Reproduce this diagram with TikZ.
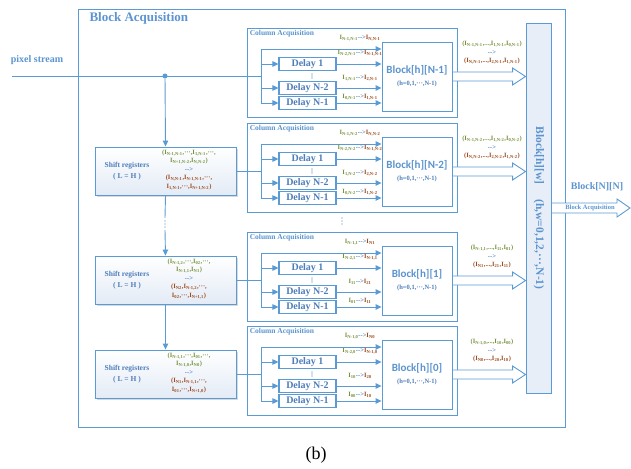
\documentclass[tikz,border=0pt]{standalone}
\usepackage{fontspec}
\setmainfont{Liberation Serif}
\newfontfamily\blkfont{Carlito}
\usetikzlibrary{arrows.meta,calc,shadows}

\definecolor{bluel}{HTML}{5B9BD5}
\definecolor{bluet}{HTML}{5B94D0}
\definecolor{delayc}{HTML}{4D7DBA}
\definecolor{igreen}{HTML}{76923C}
\definecolor{ibrown}{HTML}{9E4B1E}
\definecolor{srfill}{HTML}{E3EBF6}
\definecolor{bigfill}{HTML}{E8EEF7}

\newcommand{\ix}[1]{I\textsubscript{#1}}
\newcommand{\ipair}[2]{{\color{igreen}#1}{\color{delayc}-{}->}{\color{ibrown}#2}}
% three vertical dots round a named point: name, spacing
\newcommand{\threedots}[2]{%
  \fill[delayc] (#1) ++(0,-#2) circle (0.7) ++(0,#2) circle (0.7) ++(0,#2) circle (0.7);}
% hollow block arrow: from, to, shaft half width, head half width
\newcommand{\fatarrow}[4]{%
  \draw[fat] ($(#1)+(0,#3)$) -- ($(#2)+(-13,#3)$) -- ($(#2)+(-13,#4)$) -- (#2)
    -- ($(#2)+(-13,-#4)$) -- ($(#2)+(-13,-#3)$) -- ($(#1)+(0,-#3)$) -- cycle;}
% one column acquisition unit: name, top, block text, 4 delay labels, 2 output labels
\newcommand{\colunit}[9]{%
  \node[cabox] (#1ca) at (352,#2+44.5) {};
  \node[catitle] (#1cat) at ([xshift=3pt,yshift=-3pt]#1ca.north west) {Column Acquisition};
  \node[blkbox] (#1blk) at (417,#2+48.5) {{\blkfont\fontsize{11}{13}\selectfont #3}\\
    {\color{delayc}\fontsize{6.5}{8}\selectfont (h=0,1,···,N-1)}};
  \node[delaybox] (#1da) at (307.5,#2+36) {Delay 1};
  \node[delaybox] (#1db) at (307.5,#2+60) {Delay N-2};
  \node[delaybox] (#1dc) at (307.5,#2+75) {Delay N-1};
  \coordinate (#1vd) at (312,#2+48);
  \threedots{#1vd}{2}
  \coordinate (#1j) at (261,#2+48);
  \coordinate (#1top) at (261,#2+21);
  \draw[wire] (#1top) -- (#1j |- #1dc);
  \draw[arr] (#1top) -- (#1top -| #1blk.west);
  \draw[arr] (#1j |- #1da) -- (#1da.west);
  \draw[arr] (#1j |- #1db) -- (#1db.west);
  \draw[arr] (#1j |- #1dc) -- (#1dc.west);
  \draw[arr] (#1da.east) -- (#1da -| #1blk.west);
  \draw[arr] (#1db.east) -- (#1db -| #1blk.west);
  \draw[arr] (#1dc.east) -- (#1dc -| #1blk.west);
  \node[lbl] (#1la) at (360,#2+10) {#4};
  \node[lbl] (#1lb) at (360,#2+25) {#5};
  \node[lbl] (#1lc) at (360,#2+50) {#6};
  \node[lbl] (#1ld) at (360,#2+69) {#7};
  \coordinate (#1tip) at (#1blk.east -| big.west);
  \fatarrow{#1blk.east}{#1tip}{4.5}{8.5}
  \node[lbl] (#1oa) at (492,#2+16) {\color{igreen}#8};
  \node[lbl] (#1ob) at (492,#2+25) {\color{delayc}-{}->};
  \node[lbl] (#1oc) at (492,#2+33) {\color{ibrown}#9};
}

\begin{document}
\begin{tikzpicture}[x=1pt, y=-1pt,
    wire/.style={draw=bluel, line width=0.9pt},
    arr/.style={wire, -{Triangle[length=6pt,width=5.5pt]}},
    fat/.style={draw=bluel, line width=0.9pt, fill=white},
    outerbox/.style={draw=bluel, line width=0.9pt, minimum width=487pt, minimum height=418pt, inner sep=0},
    cabox/.style={draw=bluel, line width=0.9pt, fill=white, minimum width=210pt, minimum height=89pt, inner sep=0},
    catitle/.style={anchor=north west, inner sep=0, text=bluet, font=\bfseries\fontsize{7.5}{8}\selectfont},
    blkbox/.style={draw=bluel, line width=0.9pt, fill=white, minimum width=70pt, minimum height=69pt, inner sep=0, align=center, text=bluet, font=\bfseries},
    delaybox/.style={draw=bluel, line width=1.1pt, fill=white, minimum width=57pt, minimum height=13pt, inner sep=0, text=delayc, font=\bfseries\fontsize{10}{11}\selectfont},
    srbox/.style={draw=bluel, line width=0.9pt, top color=white, bottom color=srfill, minimum width=141pt, minimum height=48pt, inner sep=0,
      drop shadow={opacity=0.3, shadow xshift=1.5pt, shadow yshift=-1.5pt}},
    srtext/.style={align=center, text=delayc, font=\bfseries\fontsize{7.5}{11}\selectfont},
    srform/.style={align=center, inner sep=0, font=\bfseries\fontsize{6.5}{8.5}\selectfont},
    lbl/.style={inner sep=0, font=\bfseries\fontsize{6.5}{7.5}\selectfont},
    gap/.style={inner sep=0, minimum width=4pt, minimum height=12pt},
    bigtitle/.style={text=bluet, font=\bfseries\fontsize{13}{15}\selectfont}]
  \useasboundingbox (0,0) rectangle (631,468);

  % outer frame
  \node[outerbox] (ba) at (321.5,218) {};
  \node[bigtitle, anchor=west] (bat) at (86,18) {Block Acquisition};

  % collecting block
  \node[draw=bluel, line width=0.9pt, fill=bigfill, minimum width=25pt, minimum height=370pt, inner sep=0] (big) at (538.5,208) {};
  \node[rotate=-90, text=bluet, font=\bfseries\fontsize{11.5}{13}\selectfont] (bigt) at (539,208) {Block[h][w]\hspace{1.3em}(h,w=0,1,2,···,N-1)};

  % column acquisition units
  \colunit{c1}{28}{Block[h][N-1]}
    {\ipair{\ix{N-1,N-1}}{\ix{N,N-1}}}
    {\ipair{\ix{N-2,N-1}}{\ix{N-1,N-1}}}
    {\ipair{\ix{1,N-1}}{\ix{2,N-1}}}
    {\ipair{\ix{0,N-1}}{\ix{1,N-1}}}
    {(\ix{N-1,N-1},...,\ix{1,N-1},\ix{0,N-1})}
    {(\ix{N,N-1},...,\ix{2,N-1},\ix{1,N-1})}
  \colunit{c2}{123}{Block[h][N-2]}
    {\ipair{\ix{N-1,N-2}}{\ix{N,N-2}}}
    {\ipair{\ix{N-2,N-2}}{\ix{N-1,N-2}}}
    {\ipair{\ix{1,N-2}}{\ix{2,N-2}}}
    {\ipair{\ix{0,N-2}}{\ix{1,N-2}}}
    {(\ix{N-1,N-2},...,\ix{1,N-2},\ix{0,N-2})}
    {(\ix{N,N-2},...,\ix{2,N-2},\ix{1,N-2})}
  \colunit{c3}{232}{Block[h][1]}
    {\ipair{\ix{N-1,1}}{\ix{N1}}}
    {\ipair{\ix{N-2,1}}{\ix{N-1,1}}}
    {\ipair{\ix{11}}{\ix{21}}}
    {\ipair{\ix{01}}{\ix{11}}}
    {(\ix{N-1,1},...,\ix{11},\ix{01})}
    {(\ix{N1},...,\ix{21},\ix{11})}
  \colunit{c4}{326}{Block[h][0]}
    {\ipair{\ix{N-1,0}}{\ix{N0}}}
    {\ipair{\ix{N-2,0}}{\ix{N-1,0}}}
    {\ipair{\ix{10}}{\ix{20}}}
    {\ipair{\ix{00}}{\ix{10}}}
    {(\ix{N-1,0},...,\ix{10},\ix{00})}
    {(\ix{N0},...,\ix{20},\ix{10})}
  \coordinate (cvd) at (342,221);
  \threedots{cvd}{3}

  % pixel stream input
  \node[text=bluet, font=\bfseries\fontsize{10}{12}\selectfont] (ps) at (37,60) {pixel stream};
  \coordinate (pin) at (12,76);
  \node[circle, fill=bluel, inner sep=0, minimum size=5pt] (dot) at (165,76) {};
  \draw[wire] (pin) -- (c1j);

  % shift registers
  \node[srbox] (sr1) at (165.5,171) {};
  \node[srbox] (sr2) at (165.5,280) {};
  \node[srbox] (sr3) at (165.5,374) {};
  \node[srtext] (sr1l) at (127,171) {Shift registers\\( L = H )};
  \node[srtext] (sr2l) at (127,280) {Shift registers\\( L = H )};
  \node[srtext] (sr3l) at (127,374) {Shift registers\\( L = H )};
  \node[srform] (sr1r) at (189,170) {\color{igreen}(\ix{N-1,N-1},···,\ix{1,N-1},···,\\\color{igreen}\ix{N+1,N-2},\ix{N,N-2})\\
    \color{delayc}-{}->\\\color{ibrown}(\ix{N,N-1},\ix{N-1,N-1},···,\\\color{ibrown}\ix{1,N-1},···,\ix{N+1,N-2})};
  \node[srform] (sr2r) at (189,279) {\color{igreen}(\ix{N-1,2},···,\ix{02},···,\\\color{igreen}\ix{N-1,1},\ix{N1})\\
    \color{delayc}-{}->\\\color{ibrown}(\ix{N2},\ix{N-1,2},···,\\\color{ibrown}\ix{02},···,\ix{N+1,1})};
  \node[srform] (sr3r) at (189,373) {\color{igreen}(\ix{N-1,1},···,\ix{01},···,\\\color{igreen}\ix{N-1,0},\ix{N0})\\
    \color{delayc}-{}->\\\color{ibrown}(\ix{N1},\ix{N-1,1},···,\\\color{ibrown}\ix{01},···,\ix{N+1,0})};
  \node[gap] (srvd) at (165,224) {};
  \threedots{srvd}{3}
  \draw[arr] (dot) -- (sr1.north);
  \draw[wire] (sr1.south) -- (srvd.north);
  \draw[arr] (srvd.south) -- (sr2.north);
  \draw[arr] (sr2.south) -- (sr3.north);
  \draw[wire] (sr1.east) -- (c2j);
  \draw[wire] (sr2.east) -- (c3j);
  \draw[wire] (sr3.east) -- (c4j);

  % final output
  \coordinate (outtip) at (630,208);
  \fatarrow{big.east}{outtip}{5}{9}
  \node[inner sep=0, text=bluet, font=\bfseries\fontsize{6.5}{7}\selectfont] (outt) at (590,208) {Block Acquisition};
  \node[text=bluet, font=\bfseries\fontsize{10}{12}\selectfont] (outn) at (597,187) {Block[N][N]};

  \node[font=\fontsize{18}{20}\selectfont] (cap) at (316,455) {(b)};
\end{tikzpicture}
\end{document}
